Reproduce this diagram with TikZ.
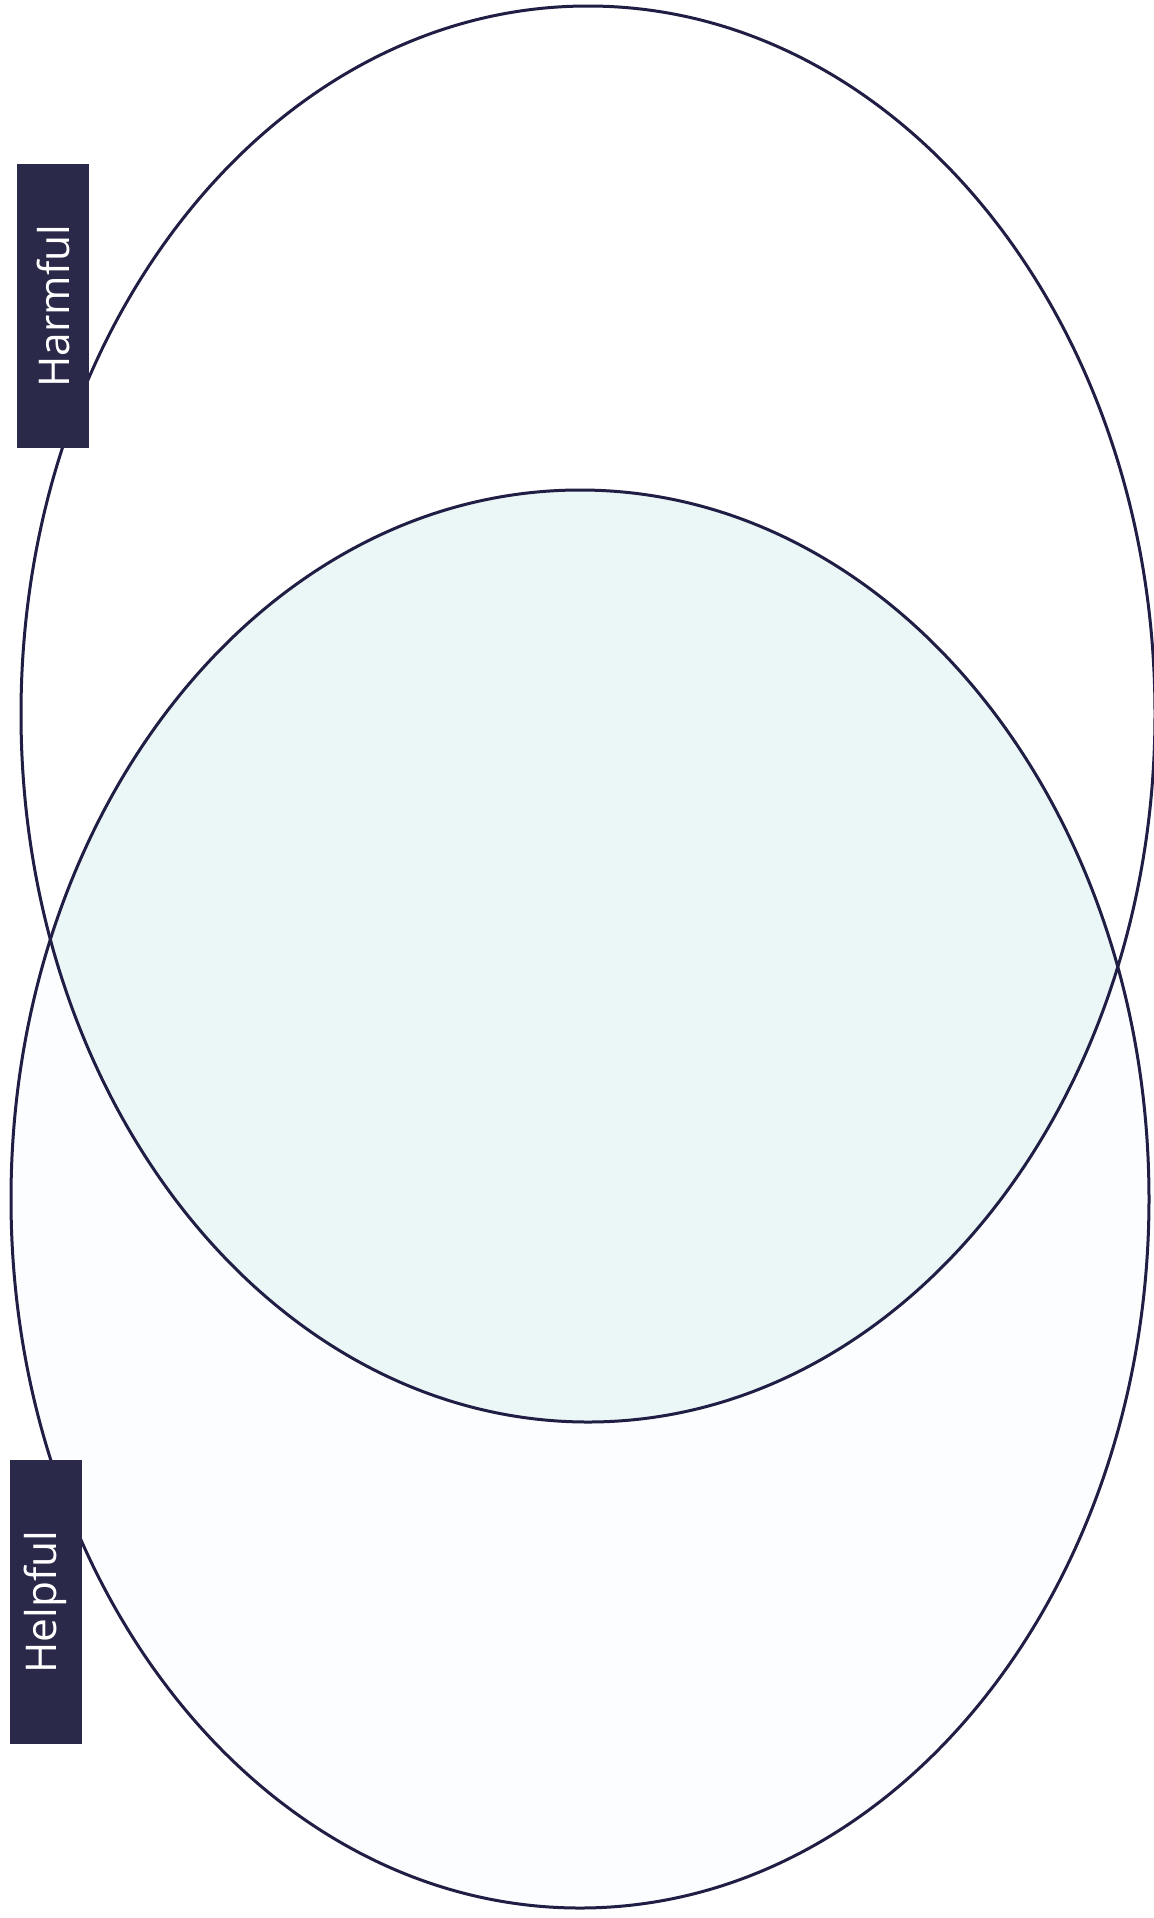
\documentclass[tikz,border=0pt]{standalone}
\usepackage{fontspec}
\setmainfont{Open Sans}
\usetikzlibrary{positioning}
\definecolor{navy}{HTML}{2A2949}
\definecolor{ring}{HTML}{201E44}
\definecolor{overlap}{HTML}{EBF6F6}
\definecolor{faint}{HTML}{FBFDFE}

\begin{document}
\begin{tikzpicture}[
    x=0.5pt, y=-0.5pt,
    ringline/.style={draw=ring, line width=1.5pt},
    tag/.style={
        rectangle, fill=navy, text=white,
        rotate=90, inner sep=0pt,
        minimum width=142pt, minimum height=36pt,
        font=\fontsize{21.2}{26}\selectfont,
    },
]

% Page
\useasboundingbox (0,0) rectangle (1154,1918);
\fill[white] (0,0) rectangle (1154,1918);

% Centres of the two rings
\coordinate (harmc) at (588,714);
\coordinate (helpc) at (580,1199);

% =============================================================
% FILLS: lower ring and the overlap
% =============================================================
\fill[faint] (helpc) ellipse [x radius=569, y radius=709];
\begin{scope}
    \clip (harmc) ellipse [x radius=567, y radius=708];
    \fill[overlap] (helpc) ellipse [x radius=569, y radius=709];
\end{scope}

% Outlines
\draw[ringline] (harmc) ellipse [x radius=567, y radius=708];
\draw[ringline] (helpc) ellipse [x radius=569, y radius=709];

% =============================================================
% LABELS
% =============================================================
\node[tag] (harmful) at (53,306) {Harmful};
\node[tag] (helpful) at (45.5,1602) {Helpful};

\end{tikzpicture}
\end{document}
